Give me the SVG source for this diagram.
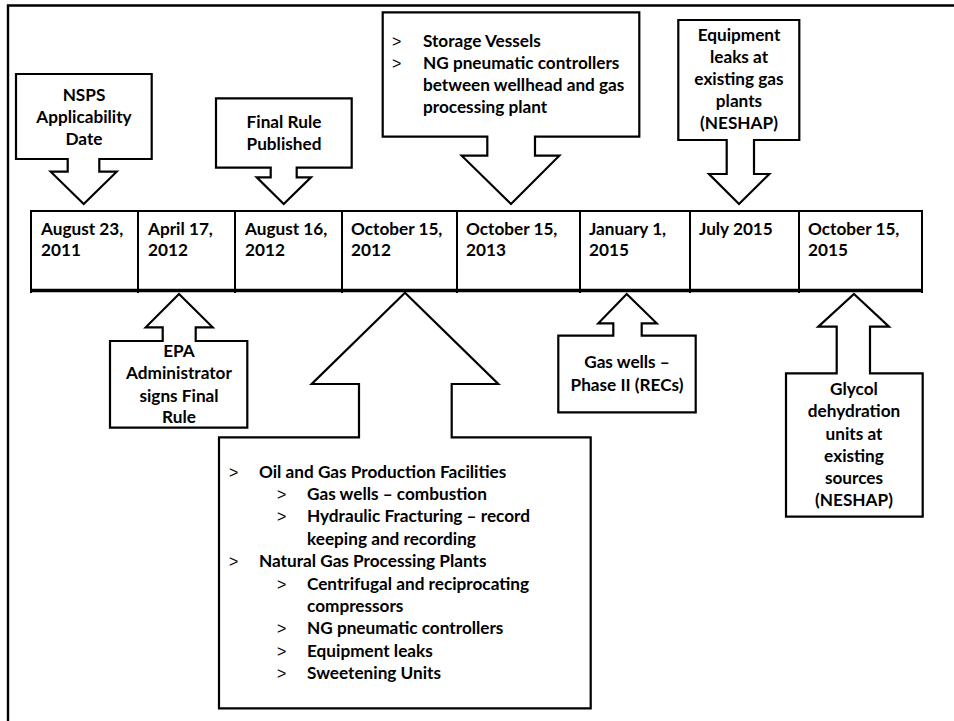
<svg xmlns="http://www.w3.org/2000/svg" width="954" height="721" viewBox="0 0 954 721">
<style>
.shape{fill:#fff;stroke:#000;stroke-width:2.2;stroke-linejoin:miter}
.frame{fill:none;stroke:#000;stroke-width:2.4}
.cellline{fill:none;stroke:#000;stroke-width:2}
text{font-family:Lato,"Liberation Sans",sans-serif;font-weight:bold;font-size:17.2px;fill:#000}
.c{text-anchor:middle}
.b{font-family:"Liberation Sans",sans-serif;font-weight:normal;font-size:16px}
</style>
<rect width="954" height="721" fill="#fff"/>
<g id="frame">
<path class="frame" d="M8,721 V5.5 H954"/>
</g>
<g id="timeline">
<rect class="cellline" x="31" y="211" width="891" height="79"/>
<path class="cellline" d="M138,211V293 M235,211V293 M342,211V293 M457,211V293 M580,211V293 M690,211V293 M799,211V293 M31,211V293 M922,211V293"/>
<path d="M31,290.5H922" stroke="#000" stroke-width="3.5"/>
</g>
<g id="cell-aug-2011"><text x="41" y="234.5">August 23,</text><text x="41" y="255.5">2011</text></g>
<g id="cell-apr-2012"><text x="148" y="234.5">April 17,</text><text x="148" y="255.5">2012</text></g>
<g id="cell-aug-2012"><text x="245" y="234.5">August 16,</text><text x="245" y="255.5">2012</text></g>
<g id="cell-oct-2012"><text x="351" y="234.5">October 15,</text><text x="351" y="255.5">2012</text></g>
<g id="cell-oct-2013"><text x="466" y="234.5">October 15,</text><text x="466" y="255.5">2013</text></g>
<g id="cell-jan-2015"><text x="589" y="234.5">January 1,</text><text x="589" y="255.5">2015</text></g>
<g id="cell-jul-2015"><text x="699" y="234.5">July 2015</text></g>
<g id="cell-oct-2015"><text x="808" y="234.5">October 15,</text><text x="808" y="255.5">2015</text></g>

<g id="callout-nsps">
<path class="shape" d="M16,74 H151.7 V159 H99.3 V171.7 H116.7 L83.7,204 L50.7,171.7 H67.7 V159 H16 Z"/>
<text class="c" x="84" y="100.5">NSPS</text>
<text class="c" x="84" y="122.5">Applicability</text>
<text class="c" x="84" y="144.5">Date</text>
</g>
<g id="callout-final-rule">
<path class="shape" d="M216,98.3 H351.7 V167.7 H296.7 V177.3 H311 L283.7,204 L256.7,177.3 H270.7 V167.7 H216 Z"/>
<text class="c" x="284" y="128">Final Rule</text>
<text class="c" x="284" y="150">Published</text>
</g>
<g id="callout-storage">
<path class="shape" d="M382.7,12.3 H639.3 V136.7 H535 V155.7 H559.3 L511,204 L461.7,155.7 H487.3 V136.7 H382.7 Z"/>
<text class="b" x="392" y="46.5">&gt;</text>
<text x="423" y="46.5">Storage Vessels</text>
<text class="b" x="392" y="69">&gt;</text>
<text x="423" y="69">NG pneumatic controllers</text>
<text x="423" y="91">between wellhead and gas</text>
<text x="423" y="113">processing plant</text>
</g>
<g id="callout-equipment">
<path class="shape" d="M678.3,20 H799.3 V140 H754 V174 H769.3 L739,204 L709,174 H726.7 V140 H678.3 Z"/>
<text class="c" x="739" y="40.5">Equipment</text>
<text class="c" x="739" y="62.5">leaks at</text>
<text class="c" x="739" y="85">existing gas</text>
<text class="c" x="739" y="107">plants</text>
<text class="c" x="739" y="129">(NESHAP)</text>
</g>
<g id="callout-epa">
<path class="shape" d="M179,294 L212.7,327.3 H195.7 V341 H247.3 V427.7 H110 V341 H162.7 V327.3 H145.7 Z"/>
<text class="c" x="179" y="357">EPA</text>
<text class="c" x="179" y="379">Administrator</text>
<text class="c" x="179" y="401.5">signs Final</text>
<text class="c" x="179" y="423">Rule</text>
</g>
<g id="callout-oct-2012">
<path class="shape" d="M405,292.7 L498.3,384 H451.7 V437.3 H590.7 V708.3 H219 V437.3 H359 V384 H311.7 Z"/>
<text class="b" x="229" y="477.5">&gt;</text>
<text x="259" y="477.5">Oil and Gas Production Facilities</text>
<text class="b" x="277" y="499.9">&gt;</text>
<text x="307" y="499.9">Gas wells – combustion</text>
<text class="b" x="277" y="522.3">&gt;</text>
<text x="307" y="522.3">Hydraulic Fracturing – record</text>
<text x="307" y="544.7">keeping and recording</text>
<text class="b" x="229" y="567.1">&gt;</text>
<text x="259" y="567.1">Natural Gas Processing Plants</text>
<text class="b" x="277" y="589.5">&gt;</text>
<text x="307" y="589.5">Centrifugal and reciprocating</text>
<text x="307" y="611.9">compressors</text>
<text class="b" x="277" y="634.3">&gt;</text>
<text x="307" y="634.3">NG pneumatic controllers</text>
<text class="b" x="277" y="656.7">&gt;</text>
<text x="307" y="656.7">Equipment leaks</text>
<text class="b" x="277" y="679.1">&gt;</text>
<text x="307" y="679.1">Sweetening Units</text>
</g>
<g id="callout-gas-wells">
<path class="shape" d="M626.7,294 L656.7,323.3 H641.7 V335.7 H695.7 V412.3 H558.3 V335.7 H613.3 V323.3 H598.3 Z"/>
<text class="c" x="627" y="368">Gas wells –</text>
<text class="c" x="627" y="390.5">Phase II (RECs)</text>
</g>
<g id="callout-glycol">
<path class="shape" d="M854,294 L889,326.7 H870 V373.3 H922.7 V516.7 H786 V373.3 H836.7 V326.7 H818.3 Z"/>
<text class="c" x="854" y="395">Glycol</text>
<text class="c" x="854" y="417.3">dehydration</text>
<text class="c" x="854" y="439.5">units at</text>
<text class="c" x="854" y="461.7">existing</text>
<text class="c" x="854" y="484">sources</text>
<text class="c" x="854" y="506">(NESHAP)</text>
</g>
<g id="connectors"></g>
</svg>
